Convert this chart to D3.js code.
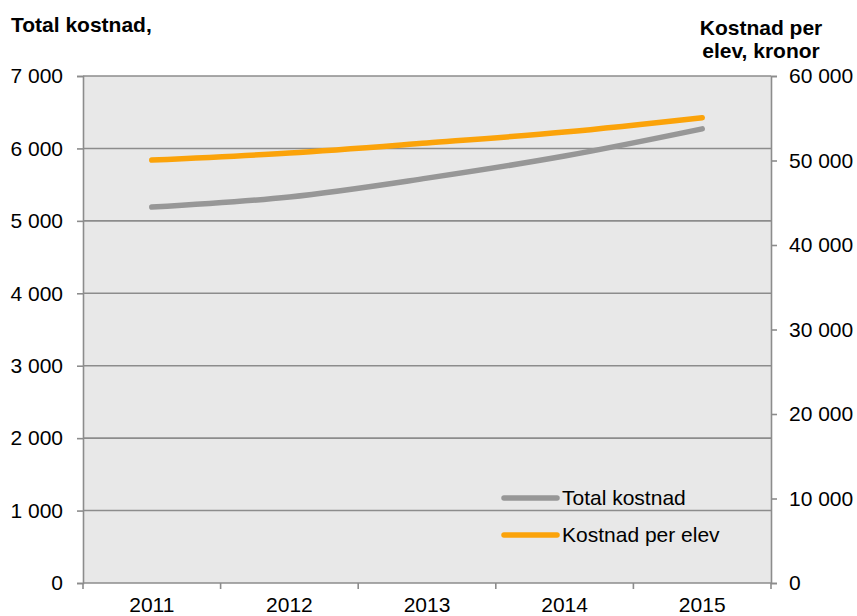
<!DOCTYPE html>
<html><head><meta charset="utf-8">
<script src="https://cdn.jsdelivr.net/npm/d3@7"></script>
<style>body{margin:0;background:#fff}svg text{font-family:"Liberation Sans",Arial,sans-serif}</style>
</head><body>
<svg id="c" width="857" height="616"></svg>
<script>
const years = ["2011","2012","2013","2014","2015"];
const totalKostnad = [5190, 5330, 5590, 5895, 6270];
const kostnadPerElev = [50050, 50880, 52070, 53370, 55070];
const leftTicks = [0,1000,2000,3000,4000,5000,6000,7000];
const rightTicks = [0,10000,20000,30000,40000,50000,60000];
const seriesNames = ["Total kostnad","Kostnad per elev"];
const colors = ["#979797","#FBA30A"];

const svg = d3.select("#c");
const L=83, R=771, T=76, B=583;
const FS = 21;
const x = d3.scaleBand().domain(years).range([L,R]);
const yL = d3.scaleLinear().domain([0,7000]).range([B,T]);
const yR = d3.scaleLinear().domain([0,60000]).range([B,T]);
const fmt = v => d3.format(",")(v).replace(/,/g," ");
const axisColor="#8c8c8c";

svg.append("rect").attr("x",L).attr("y",T).attr("width",R-L).attr("height",B-T).attr("fill","#e8e8e8");

// gridlines
svg.append("g").selectAll("line").data(leftTicks.filter(d=>d>0)).join("line")
  .attr("x1",L).attr("x2",R).attr("y1",d=>yL(d)).attr("y2",d=>yL(d))
  .attr("stroke",axisColor).attr("stroke-width",1.6);

// left axis
const gL = svg.append("g").attr("transform",`translate(${L},0)`)
  .call(d3.axisLeft(yL).tickValues(leftTicks).tickFormat(fmt).tickSize(6).tickPadding(14));
// right axis
const gR = svg.append("g").attr("transform",`translate(${R},0)`)
  .call(d3.axisRight(yR).tickValues(rightTicks).tickFormat(fmt).tickSize(6).tickPadding(12));
// bottom axis
const gB = svg.append("g").attr("transform",`translate(0,${B})`)
  .call(d3.axisBottom(x).tickSize(0).tickPadding(14));
gB.append("g").selectAll("line").data(d3.range(years.length+1)).join("line")
  .attr("x1",i=>L+i*x.step()).attr("x2",i=>L+i*x.step()).attr("y1",0).attr("y2",6)
  .attr("stroke",axisColor).attr("stroke-width",1.6);

[gL,gR,gB].forEach(g=>{
  g.select(".domain").attr("stroke",axisColor).attr("stroke-width",1.6);
  g.selectAll(".tick line").attr("stroke",axisColor).attr("stroke-width",1.6);
  g.selectAll("text").attr("font-size",FS).attr("fill","#000").attr("font-family","Liberation Sans, Arial, sans-serif");
});
gB.select(".domain").attr("d",`M${L},0H${R}`);

// lines
const cx = d => x(d)+x.bandwidth()/2;
const lineL = d3.line().x((d,i)=>cx(years[i])).y(d=>yL(d)).curve(d3.curveCatmullRom.alpha(0.5));
const lineR = d3.line().x((d,i)=>cx(years[i])).y(d=>yR(d)).curve(d3.curveCatmullRom.alpha(0.5));
svg.append("path").datum(totalKostnad).attr("d",lineL).attr("fill","none")
  .attr("stroke",colors[0]).attr("stroke-width",5.5).attr("stroke-linecap","round");
svg.append("path").datum(kostnadPerElev).attr("d",lineR).attr("fill","none")
  .attr("stroke",colors[1]).attr("stroke-width",5.5).attr("stroke-linecap","round");

// legend
const leg = svg.append("g");
seriesNames.forEach((n,i)=>{
  const yy = 498 + i*37;
  leg.append("line").attr("x1",504).attr("x2",557).attr("y1",yy).attr("y2",yy)
    .attr("stroke",colors[i]).attr("stroke-width",5.5).attr("stroke-linecap","round");
  leg.append("text").attr("x",562).attr("y",yy+7).attr("font-size",FS).text(n);
});

// titles
svg.append("text").attr("x",11).attr("y",32).attr("font-size",FS).attr("font-weight","bold").text("Total kostnad,");
svg.append("text").attr("x",761).attr("y",35).attr("text-anchor","middle").attr("font-size",FS).attr("font-weight","bold").text("Kostnad per");
svg.append("text").attr("x",761).attr("y",58).attr("text-anchor","middle").attr("font-size",FS).attr("font-weight","bold").text("elev, kronor");
</script>
</body></html>
